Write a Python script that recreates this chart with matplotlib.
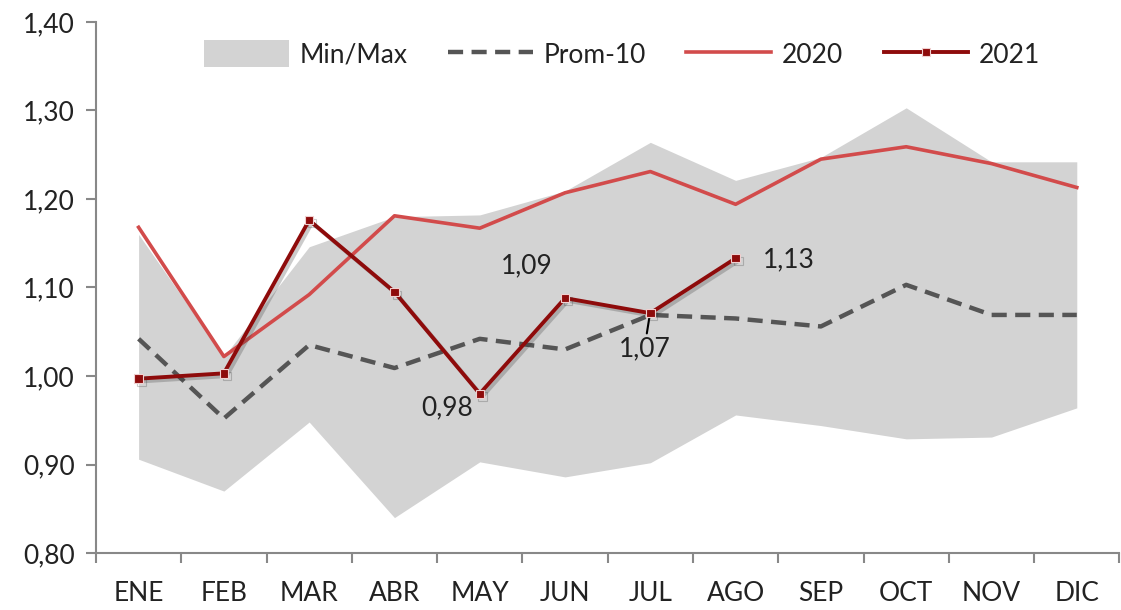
import numpy as np
import matplotlib.pyplot as plt
import matplotlib.patheffects as pe
from matplotlib.lines import Line2D
from matplotlib.patches import Patch

plt.rcParams['font.family'] = ['Lato', 'DejaVu Sans']

# Datos
meses = ['ENE', 'FEB', 'MAR', 'ABR', 'MAY', 'JUN', 'JUL', 'AGO', 'SEP', 'OCT', 'NOV', 'DIC']
minimo = [0.906, 0.870, 0.948, 0.840, 0.903, 0.886, 0.902, 0.956, 0.944, 0.929, 0.931, 0.964]
maximo = [1.160, 1.022, 1.146, 1.180, 1.182, 1.209, 1.264, 1.221, 1.247, 1.303, 1.242, 1.242]
prom10 = [1.042, 0.952, 1.035, 1.009, 1.042, 1.030, 1.069, 1.065, 1.056, 1.103, 1.069, 1.069]
a2020 = [1.168, 1.022, 1.092, 1.181, 1.167, 1.207, 1.231, 1.194, 1.245, 1.259, 1.240, 1.213]
a2021 = [0.997, 1.003, 1.176, 1.095, 0.980, 1.088, 1.071, 1.133]
etiquetas = {4: '0,98', 5: '1,09', 6: '1,07', 7: '1,13'}

x = np.arange(len(meses))
x21 = np.arange(len(a2021))

fig = plt.figure(figsize=(11.21, 6.10), dpi=100)
ax = fig.add_axes([0.0856, 0.0934, 0.913, 0.8706])

gris = '#d3d3d3'
rojo = '#d24b4b'
granate = '#8e0b0b'
oscuro = '#555555'
texto = '#222222'

# Banda min/max
ax.fill_between(x, minimo, maximo, color=gris, lw=0, zorder=1)

# Promedio 10 años
ax.plot(x, prom10, color=oscuro, lw=3.2, dashes=(3.4, 1.9), zorder=2)

# 2020
ax.plot(x, a2020, color=rojo, lw=2.6, zorder=3)

# 2021 con sombra
sombra = [pe.SimpleLineShadow(offset=(2, -2), alpha=0.25, shadow_color='#333333'), pe.Normal()]
ax.plot(x21, a2021, color=granate, lw=2.8, marker='s', markersize=6,
        markerfacecolor=granate, markeredgecolor='#f0d0d0', markeredgewidth=0.8,
        zorder=4, path_effects=sombra)

# Etiquetas de datos
fs = 19
ax.text(4 - 0.38, a2021[4] - 0.016, etiquetas[4], ha='center', va='center', fontsize=fs, color=texto)
ax.text(5 - 0.45, a2021[5] + 0.022, etiquetas[5], ha='center', va='bottom', fontsize=fs, color=texto)
ax.annotate(etiquetas[6], xy=(6 - 0.01, a2021[6] - 0.004), xytext=(6 - 0.07, a2021[6] - 0.026),
            ha='center', va='top', fontsize=fs, color=texto,
            arrowprops=dict(arrowstyle='-', color='black', lw=1.5, shrinkA=0, shrinkB=0))
ax.text(7 + 0.32, a2021[7] - 0.002, etiquetas[7], ha='left', va='center', fontsize=fs, color=texto)

# Ejes
ax.set_xlim(-0.5, 11.5)
ax.set_ylim(0.80, 1.40)
ax.set_yticks(np.arange(0.80, 1.401, 0.10))
ax.set_yticklabels([f'{v:.2f}'.replace('.', ',') for v in np.arange(0.80, 1.401, 0.10)])
ax.set_xticks(x)
ax.set_xticklabels(meses)
ax.set_xticks(np.arange(-0.5, 11.6, 1), minor=True)
ax.tick_params(axis='x', which='major', length=0, pad=20, labelsize=fs, labelcolor=texto)
ax.tick_params(axis='x', which='minor', length=7, width=1.5, color='#888888', direction='out')
ax.tick_params(axis='y', length=7, width=1.5, color='#888888', pad=8, labelsize=fs, labelcolor=texto)
for s in ['top', 'right']:
    ax.spines[s].set_visible(False)
for s in ['left', 'bottom']:
    ax.spines[s].set_color('#888888')
    ax.spines[s].set_linewidth(1.5)

# Leyenda
handles = [
    Patch(facecolor=gris, edgecolor='none'),
    Line2D([], [], color=oscuro, lw=3.2, dashes=(3.4, 1.9)),
    Line2D([], [], color=rojo, lw=2.6),
    Line2D([], [], color=granate, lw=2.8, marker='s', markersize=6,
           markerfacecolor=granate, markeredgecolor='#f0d0d0', markeredgewidth=0.8),
]
ax.legend(handles, ['Min/Max', 'Prom-10', '2020', '2021'], ncol=4, frameon=False,
          loc='upper center', bbox_to_anchor=(0.514, 1.01), fontsize=fs,
          handlelength=3.2, handleheight=1.2, columnspacing=1.55, handletextpad=0.4,
          labelcolor=texto)

fig.savefig('out.png', dpi=100)
